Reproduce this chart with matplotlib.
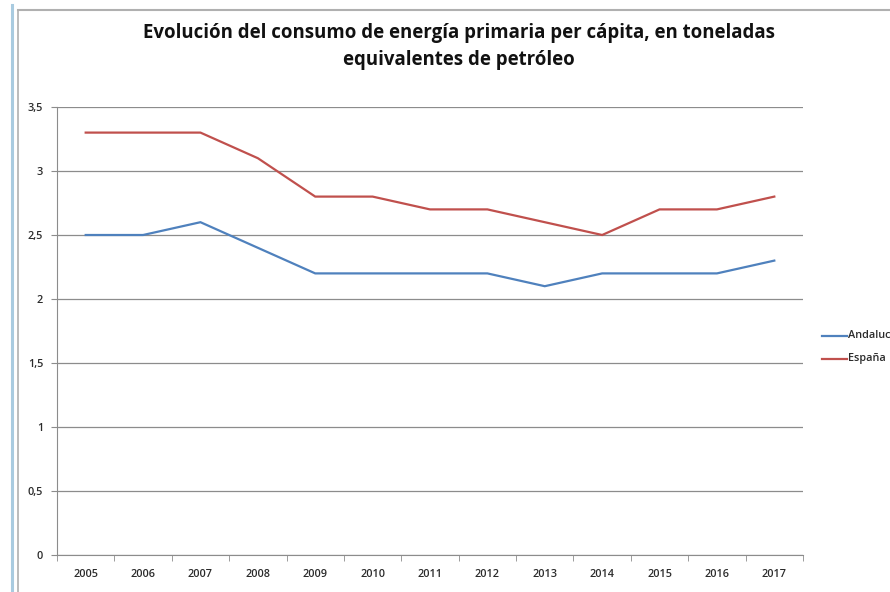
import matplotlib.pyplot as plt
from matplotlib.ticker import FuncFormatter, FixedLocator

years = ['2005', '2006', '2007', '2008', '2009', '2010', '2011',
         '2012', '2013', '2014', '2015', '2016', '2017']
andalucia = [2.5, 2.5, 2.6, 2.4, 2.2, 2.2, 2.2, 2.2, 2.1, 2.2, 2.2, 2.2, 2.3]
espana = [3.3, 3.3, 3.3, 3.1, 2.8, 2.8, 2.7, 2.7, 2.6, 2.5, 2.7, 2.7, 2.8]
series_names = ['Andalucía', 'España']

plt.rcParams['font.family'] = ['Open Sans', 'DejaVu Sans']

fig = plt.figure(figsize=(8.9, 5.92), dpi=100)
W, H = 890, 592

# outer frame: blue page edge plus the grey chart border
fig.add_artist(plt.Line2D([12 / W, 12 / W], [0, 1 - 5 / H], color='#a9cbe0', lw=2.2))
fig.add_artist(plt.Line2D([18 / W, 18 / W], [0, 1 - 10 / H], color='#b0b0b0', lw=1.2))
fig.add_artist(plt.Line2D([18 / W, 1], [1 - 10 / H, 1 - 10 / H], color='#b0b0b0', lw=1.5))

ax = fig.add_axes([57 / W, 1 - 555 / H, (803 - 57) / W, (555 - 107) / H])

x = list(range(len(years)))
ax.plot(x, andalucia, color='#4f81bd', lw=1.6, solid_joinstyle='miter')
ax.plot(x, espana, color='#c0504d', lw=1.6, solid_joinstyle='miter')

ax.set_xlim(-0.5, len(years) - 0.5)
ax.set_ylim(0, 3.5)
ax.set_yticks([i * 0.5 for i in range(8)])
ax.yaxis.set_major_formatter(FuncFormatter(
    lambda v, p: ('%g' % v).replace('.', ',')))
ax.grid(axis='y', color='#8c8c8c', lw=0.9)
ax.set_axisbelow(True)

# category labels centred, tick marks on the boundaries
ax.set_xticks(x)
ax.set_xticklabels(years)
ax.tick_params(axis='x', which='major', length=0, pad=10)
ax.xaxis.set_minor_locator(FixedLocator([i - 0.5 for i in range(len(years) + 1)]))
ax.tick_params(axis='x', which='minor', length=4, color='#8c8c8c', direction='out')
ax.tick_params(axis='y', length=4, color='#8c8c8c', pad=6)

for lab in ax.get_xticklabels() + ax.get_yticklabels():
    lab.set_fontsize(7.8)
    lab.set_fontweight('semibold')
    lab.set_color('#2b2b2b')

for side in ['top', 'right']:
    ax.spines[side].set_visible(False)
ax.spines['left'].set_color('#8c8c8c')
ax.spines['bottom'].set_color('#8c8c8c')

fig.text(459 / W, 1 - 33 / H,
         'Evolución del consumo de energía primaria per cápita, en toneladas',
         ha='center', va='center', fontsize=13.4, fontweight='bold', color='#111111')
fig.text(459 / W, 1 - 60 / H, 'equivalentes de petróleo',
         ha='center', va='center', fontsize=13.4, fontweight='bold', color='#111111')

# legend on the right, running off the edge of the canvas
for name, col, ly in [(series_names[0], '#4f81bd', 336), (series_names[1], '#c0504d', 359)]:
    fig.add_artist(plt.Line2D([822 / W, 847 / W], [1 - ly / H, 1 - ly / H], color=col, lw=1.6))
    fig.text(848 / W, 1 - ly / H, name, ha='left', va='center',
             fontsize=7.8, fontweight='semibold', color='#2b2b2b')

fig.savefig('out.png', dpi=100)
